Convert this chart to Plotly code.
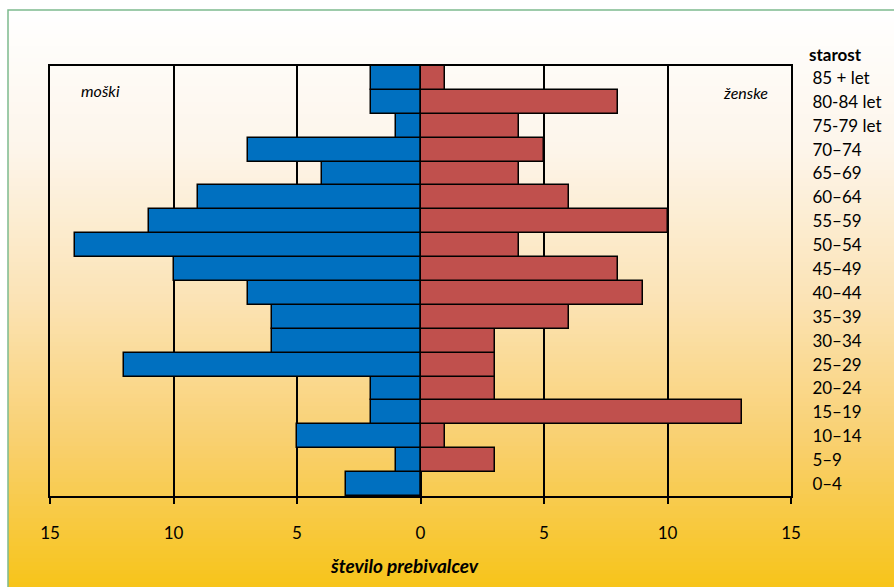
import plotly.graph_objects as go

# Age groups, listed from youngest (bottom) to oldest (top)
age_groups = ["0–4", "5–9", "10–14", "15–19", "20–24", "25–29", "30–34",
              "35–39", "40–44", "45–49", "50–54", "55–59", "60–64",
              "65–69", "70–74", "75-79 let", "80-84 let", "85 + let"]
men = [3, 1, 5, 2, 2, 12, 6, 6, 7, 10, 14, 11, 9, 4, 7, 1, 2, 2]
women = [0, 3, 1, 13, 3, 3, 3, 6, 9, 8, 4, 10, 6, 4, 5, 4, 8, 1]

tick_values = [-15, -10, -5, 0, 5, 10, 15]
tick_labels = ["15", "10", "5", "0", "5", "10", "15"]

W, H = 894, 587
ML, MR, MT, MB = 50, 103, 66, 91
PW, PH = W - ML - MR, H - MT - MB


def px(x):
    return (x - ML) / PW


def py(y):
    return 1 - (y - MT) / PH


FONT = "Lato"

fig = go.Figure()
fig.add_bar(y=age_groups, x=[-v for v in men], orientation="h",
            marker=dict(color="#0070C0", line=dict(color="#000000", width=1.5)),
            name="moški", showlegend=False)
fig.add_bar(y=age_groups, x=women, orientation="h",
            marker=dict(color="#C0504D", line=dict(color="#000000", width=1.5)),
            name="ženske", showlegend=False)

# Vertical background gradient inside the green frame
stops = [(10, (255, 255, 255)), (150, (253, 245, 234)), (300, (251, 227, 181)),
         (440, (249, 208, 112)), (587, (247, 196, 26))]


def color_at(y):
    for (y0, c0), (y1, c1) in zip(stops, stops[1:]):
        if y0 <= y <= y1:
            t = (y - y0) / (y1 - y0)
            return "rgb(%d,%d,%d)" % tuple(round(a + (b - a) * t) for a, b in zip(c0, c1))
    return "rgb(%d,%d,%d)" % stops[-1][1]


shapes = []
step = 4
y = 10
while y < H:
    shapes.append(dict(type="rect", xref="paper", yref="paper", layer="below",
                       x0=px(8), x1=px(W + 5), y0=py(y), y1=py(min(y + step, H) + 1),
                       line=dict(width=0), fillcolor=color_at(y + step / 2)))
    y += step
shapes.append(dict(type="rect", xref="paper", yref="paper", layer="above",
                   x0=px(8), x1=px(W + 20), y0=py(10), y1=py(H + 20),
                   line=dict(color="#7DBB8E", width=1.5), fillcolor="rgba(0,0,0,0)"))

annotations = [
    dict(text="<i>moški</i>", x=px(79), y=py(90), xref="paper", yref="paper",
         xanchor="left", yanchor="middle", showarrow=False,
         font=dict(family=FONT, size=16, color="#000")),
    dict(text="<i>ženske</i>", x=px(770), y=py(92), xref="paper", yref="paper",
         xanchor="right", yanchor="middle", showarrow=False,
         font=dict(family=FONT, size=16, color="#000")),
    dict(text="<b>starost</b>", x=px(807), y=py(55), xref="paper", yref="paper",
         xanchor="left", yanchor="middle", showarrow=False,
         font=dict(family=FONT, size=17, color="#000")),
    dict(text="<b><i>število prebivalcev</i></b>", x=px(404), y=py(565),
         xref="paper", yref="paper", xanchor="center", yanchor="middle",
         showarrow=False, font=dict(family=FONT, size=19, color="#000")),
]

fig.update_layout(
    width=W, height=H,
    margin=dict(l=ML, r=MR, t=MT, b=MB, pad=0),
    paper_bgcolor="#FFFFFF", plot_bgcolor="rgba(0,0,0,0)",
    barmode="overlay", bargap=0,
    shapes=shapes, annotations=annotations,
    font=dict(family=FONT, size=17, color="#000"),
    xaxis=dict(range=[-15, 15], tickvals=tick_values, ticktext=tick_labels,
               showgrid=True, gridcolor="#000000", gridwidth=1.5,
               zeroline=True, zerolinecolor="#000000", zerolinewidth=1.5,
               showline=True, linecolor="#000000", linewidth=2, mirror=True,
               ticks="outside", ticklen=6, tickcolor="#000000", tickwidth=1.5,
               ticklabelstandoff=15, fixedrange=True,
               tickfont=dict(family=FONT, size=17, color="#000")),
    yaxis=dict(categoryorder="array", categoryarray=age_groups, side="right",
               showgrid=False, zeroline=False, ticks="",
               showline=True, linecolor="#000000", linewidth=2, mirror=True,
               ticklabelstandoff=16, fixedrange=True,
               tickfont=dict(family=FONT, size=17, color="#000")),
)

fig.write_html("out.html")
